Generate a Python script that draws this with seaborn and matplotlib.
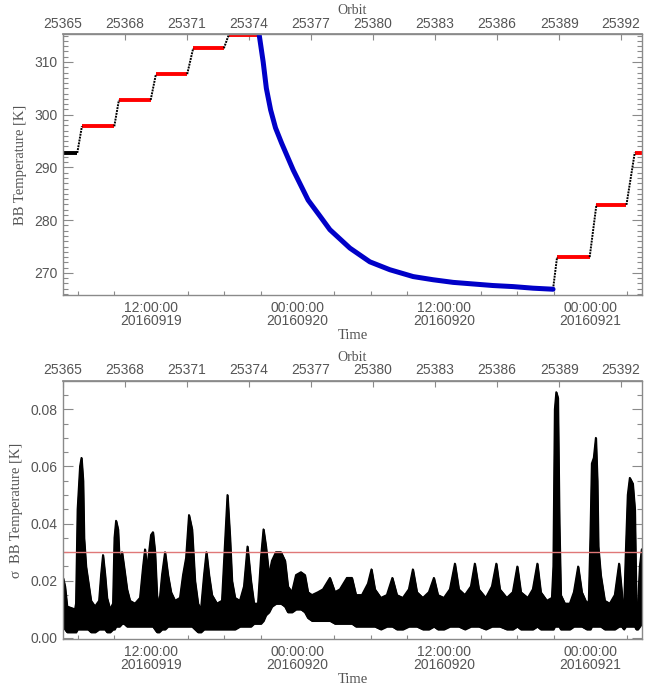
import numpy as np
import pandas as pd
import matplotlib
matplotlib.use("Agg")
import matplotlib.pyplot as plt
import seaborn as sns
from matplotlib.ticker import MultipleLocator, FixedLocator, FormatStrFormatter

# ---------------- data (time in hours since 2016-09-19 00:00) ----------------
ORBIT_START_H = 4.8       # time of orbit 25365
ORBIT_PERIOD_H = 1.6925   # hours per orbit
X_RANGE = (4.8, 52.2)

# top panel: plateaus (red = stable, first one black), transitions (black), cool-down (blue)
plateau_start = [4.80, 6.35, 9.38, 12.41, 15.46, 18.38, 45.25, 48.47, 51.61]
plateau_end = [5.97, 9.00, 11.98, 14.97, 17.97, 20.86, 47.92, 50.93, 52.20]
plateau_temp = [292.75, 297.8, 302.8, 307.7, 312.6, 315.2, 273.0, 282.9, 292.8]
plateau_color = ["black", "red", "red", "red", "red", "red", "red", "red", "red"]

ramp_t0 = [5.97, 9.00, 11.98, 14.97, 17.97, 44.92, 47.92, 50.93]
ramp_t1 = [6.35, 9.38, 12.41, 15.46, 18.38, 45.25, 48.47, 51.61]
ramp_k0 = [292.75, 297.8, 302.8, 307.7, 312.6, 266.9, 273.0, 282.9]
ramp_k1 = [297.8, 302.8, 307.7, 312.6, 315.2, 273.0, 282.9, 292.8]

cool_time = [20.86, 21.00, 21.19, 21.45, 21.80, 22.20, 22.70, 23.65, 24.87, 25.83,
             26.65, 28.29, 29.92, 31.56, 33.47, 35.10, 36.74, 38.37, 40.01, 41.65,
             43.28, 44.92]
cool_temp = [315.2, 313.0, 310.0, 305.0, 300.9, 297.5, 294.6, 289.5, 283.8, 280.8,
             278.2, 274.7, 272.1, 270.6, 269.3, 268.7, 268.2, 267.9, 267.6, 267.4,
             267.1, 266.9]

# bottom panel: sigma of BB temperature, upper / lower envelope of the point cloud
sig_time = [4.80, 4.96, 5.13, 5.78, 5.86, 5.99, 6.19, 6.31, 6.44, 6.52,
            6.68, 6.85, 7.09, 7.42, 7.75, 7.91, 8.07, 8.24, 8.40, 8.65,
            8.89, 9.01, 9.14, 9.30, 9.42, 9.63, 9.79, 10.04, 10.28, 10.69,
            11.10, 11.35, 11.51, 11.67, 11.84, 12.00, 12.16, 12.33, 12.49, 12.66,
            12.90, 13.15, 13.39, 13.64, 13.97, 14.37, 14.62, 14.87, 15.11, 15.36,
            15.60, 15.85, 16.09, 16.34, 16.54, 16.75, 16.99, 17.40, 17.81, 18.02,
            18.26, 18.47, 18.63, 18.88, 19.28, 19.61, 19.90, 20.18, 20.43, 20.76,
            21.00, 21.21, 21.41, 21.66, 21.90, 22.23, 22.64, 22.97, 23.21, 23.54,
            23.87, 24.28, 24.60, 24.85, 25.18, 25.67, 26.08, 26.65, 27.06, 27.47,
            28.04, 28.45, 28.78, 29.27, 29.76, 30.05, 30.33, 30.82, 31.31, 31.76,
            32.13, 32.62, 33.11, 33.44, 33.77, 34.26, 34.75, 35.16, 35.49, 35.98,
            36.47, 36.88, 37.20, 37.70, 38.19, 38.51, 38.84, 39.41, 39.91, 40.27,
            40.56, 41.13, 41.62, 41.99, 42.28, 42.85, 43.26, 43.63, 43.91, 44.41,
            44.82, 44.94, 45.06, 45.18, 45.31, 45.43, 45.55, 45.88, 46.29, 46.62,
            46.97, 47.27, 47.68, 47.84, 47.97, 48.09, 48.25, 48.42, 48.54, 48.62,
            48.82, 49.15, 49.56, 49.97, 50.32, 50.54, 50.71, 50.87, 51.03, 51.20,
            51.44, 51.61, 51.73, 51.85, 52.02, 52.18]
sig_high = [0.021, 0.018, 0.011, 0.010, 0.012, 0.045, 0.060, 0.063, 0.055, 0.035,
            0.025, 0.020, 0.013, 0.011, 0.013, 0.022, 0.029, 0.022, 0.014, 0.010,
            0.012, 0.035, 0.041, 0.038, 0.027, 0.030, 0.025, 0.017, 0.013, 0.012,
            0.014, 0.025, 0.031, 0.024, 0.030, 0.036, 0.037, 0.030, 0.015, 0.011,
            0.022, 0.030, 0.022, 0.016, 0.013, 0.014, 0.022, 0.028, 0.043, 0.038,
            0.020, 0.012, 0.010, 0.022, 0.030, 0.022, 0.015, 0.012, 0.013, 0.030,
            0.050, 0.035, 0.020, 0.014, 0.013, 0.018, 0.032, 0.020, 0.012, 0.012,
            0.028, 0.038, 0.032, 0.022, 0.027, 0.030, 0.030, 0.027, 0.018, 0.016,
            0.022, 0.023, 0.022, 0.016, 0.015, 0.016, 0.017, 0.021, 0.016, 0.017,
            0.021, 0.021, 0.015, 0.015, 0.019, 0.024, 0.017, 0.014, 0.015, 0.021,
            0.015, 0.014, 0.017, 0.024, 0.016, 0.014, 0.016, 0.021, 0.015, 0.014,
            0.017, 0.026, 0.017, 0.015, 0.018, 0.026, 0.017, 0.014, 0.018, 0.026,
            0.017, 0.014, 0.016, 0.025, 0.016, 0.014, 0.017, 0.026, 0.016, 0.013,
            0.014, 0.025, 0.080, 0.086, 0.084, 0.040, 0.015, 0.012, 0.012, 0.016,
            0.025, 0.016, 0.012, 0.013, 0.035, 0.061, 0.063, 0.070, 0.055, 0.032,
            0.022, 0.013, 0.012, 0.015, 0.026, 0.016, 0.008, 0.030, 0.050, 0.056,
            0.054, 0.045, 0.012, 0.010, 0.025, 0.031]
sig_low = [0.004, 0.003, 0.002, 0.002, 0.002, 0.003, 0.003, 0.003, 0.003, 0.003,
           0.003, 0.003, 0.002, 0.002, 0.003, 0.003, 0.003, 0.003, 0.002, 0.002,
           0.003, 0.003, 0.004, 0.004, 0.004, 0.005, 0.005, 0.004, 0.004, 0.004,
           0.004, 0.004, 0.004, 0.004, 0.004, 0.004, 0.004, 0.003, 0.002, 0.002,
           0.003, 0.003, 0.004, 0.004, 0.004, 0.004, 0.004, 0.004, 0.004, 0.004,
           0.003, 0.002, 0.002, 0.003, 0.003, 0.003, 0.003, 0.003, 0.003, 0.003,
           0.003, 0.003, 0.003, 0.003, 0.004, 0.004, 0.004, 0.004, 0.005, 0.005,
           0.005, 0.006, 0.008, 0.009, 0.011, 0.012, 0.012, 0.011, 0.009, 0.009,
           0.010, 0.010, 0.009, 0.007, 0.006, 0.006, 0.006, 0.006, 0.005, 0.005,
           0.005, 0.005, 0.004, 0.004, 0.004, 0.004, 0.004, 0.003, 0.004, 0.004,
           0.003, 0.003, 0.004, 0.004, 0.004, 0.003, 0.003, 0.004, 0.003, 0.003,
           0.004, 0.004, 0.004, 0.003, 0.004, 0.004, 0.004, 0.003, 0.004, 0.004,
           0.004, 0.003, 0.003, 0.004, 0.003, 0.003, 0.003, 0.004, 0.003, 0.003,
           0.003, 0.003, 0.004, 0.004, 0.004, 0.004, 0.003, 0.003, 0.003, 0.004,
           0.004, 0.004, 0.003, 0.003, 0.003, 0.004, 0.004, 0.004, 0.004, 0.004,
           0.004, 0.003, 0.003, 0.003, 0.004, 0.004, 0.003, 0.004, 0.004, 0.004,
           0.004, 0.004, 0.003, 0.003, 0.004, 0.005]
sigma_threshold = 0.03

time_tick_hours = [12, 24, 36, 48]
time_tick_labels = ["12:00:00\n20160919", "00:00:00\n20160920",
                    "12:00:00\n20160920", "00:00:00\n20160921"]
orbit_ticks = list(range(25365, 25393, 3))

# ---------------- style ----------------
sns.set_theme(style="white")
plt.rcParams["font.family"] = ["Liberation Sans", "DejaVu Sans"]
GRAY = "#555555"
SPINE = "#8a8a8a"
SERIF = ["Liberation Serif", "DejaVu Serif"]

fig = plt.figure(figsize=(6.52, 6.89), dpi=100)
ax1 = fig.add_axes([0.0966, 0.5718, 0.8880, 0.3788])
ax2 = fig.add_axes([0.0966, 0.0726, 0.8880, 0.3745])


def h2orb(h):
    return 25365 + (np.asarray(h, dtype=float) - ORBIT_START_H) / ORBIT_PERIOD_H


def orb2h(o):
    return ORBIT_START_H + (np.asarray(o, dtype=float) - 25365) * ORBIT_PERIOD_H


def style_axes(ax):
    for s in ax.spines.values():
        s.set_color(SPINE)
        s.set_linewidth(1.0)
    ax.set_xlim(*X_RANGE)
    ax.xaxis.set_major_locator(FixedLocator(time_tick_hours))
    ax.set_xticklabels(time_tick_labels)
    ax.xaxis.set_minor_locator(MultipleLocator(3))
    ax.tick_params(axis="x", which="major", direction="in", length=4, width=0.8,
                   color=SPINE, labelcolor=GRAY, labelsize=10, pad=4, top=False)
    ax.tick_params(axis="x", which="minor", direction="in", length=3, width=0.8,
                   color=SPINE, top=False, bottom=True)
    ax.tick_params(axis="y", which="major", direction="in", length=7, width=0.8,
                   color=SPINE, labelcolor=GRAY, labelsize=10, left=True, right=True, pad=4)
    ax.tick_params(axis="y", which="minor", direction="in", length=3.5, width=0.8,
                   color=SPINE, left=True, right=True)
    for lab in ax.get_xticklabels():
        lab.set_linespacing(0.95)
    ax.set_xlabel("Time", family=SERIF, fontsize=10.5, color=GRAY, labelpad=1)
    sec = ax.secondary_xaxis("top", functions=(h2orb, orb2h))
    sec.set_xticks(orbit_ticks)
    sec.set_xticklabels([str(o) for o in orbit_ticks])
    sec.tick_params(axis="x", which="major", direction="in", length=4, width=0.8,
                    color=SPINE, labelcolor=GRAY, labelsize=10, pad=2.5)
    sec.tick_params(axis="x", which="minor", length=0)
    sec.spines["top"].set_color(SPINE)
    sec.set_xlabel("Orbit", family=SERIF, fontsize=10, color=GRAY, labelpad=2)


# ---------------- top panel ----------------
for t0, t1, k, c in zip(plateau_start, plateau_end, plateau_temp, plateau_color):
    sns.lineplot(x=[t0, t1], y=[k, k], ax=ax1, color=c, linewidth=2.8,
                 solid_capstyle="butt", estimator=None, sort=False)
for t0, t1, k0, k1 in zip(ramp_t0, ramp_t1, ramp_k0, ramp_k1):
    sns.lineplot(x=[t0, t1], y=[k0, k1], ax=ax1, color="black", linewidth=1.4,
                 linestyle=(0, (1.0, 0.5)), estimator=None, sort=False)
sns.lineplot(x=cool_time, y=cool_temp, ax=ax1, color="#0000c8", linewidth=3.6,
             estimator=None, sort=False)
ax1.set_ylim(265.8, 315.3)
ax1.yaxis.set_major_locator(MultipleLocator(10))
ax1.yaxis.set_minor_locator(MultipleLocator(1))
ax1.set_ylabel("BB Temperature [K]", family=SERIF, fontsize=10.5, color=GRAY, labelpad=5)
style_axes(ax1)

# ---------------- bottom panel ----------------
ax2.fill_between(sig_time, sig_low, sig_high, color="black", linewidth=1.2)
sns.lineplot(x=sig_time, y=sig_high, ax=ax2, color="black", linewidth=1.3,
             estimator=None, sort=False)
sns.lineplot(x=sig_time, y=sig_low, ax=ax2, color="black", linewidth=1.3,
             estimator=None, sort=False)
ax2.axhline(sigma_threshold, color="#e07878", linewidth=1.0)
ax2.set_ylim(-0.0004, 0.0899)
ax2.yaxis.set_major_locator(MultipleLocator(0.02))
ax2.yaxis.set_minor_locator(MultipleLocator(0.005))
ax2.yaxis.set_major_formatter(FormatStrFormatter("%.2f"))
ax2.set_ylabel("\u03c3  BB Temperature [K]", family=SERIF, fontsize=10.5, color=GRAY,
               labelpad=5)
style_axes(ax2)

fig.savefig("out.png", dpi=100)
